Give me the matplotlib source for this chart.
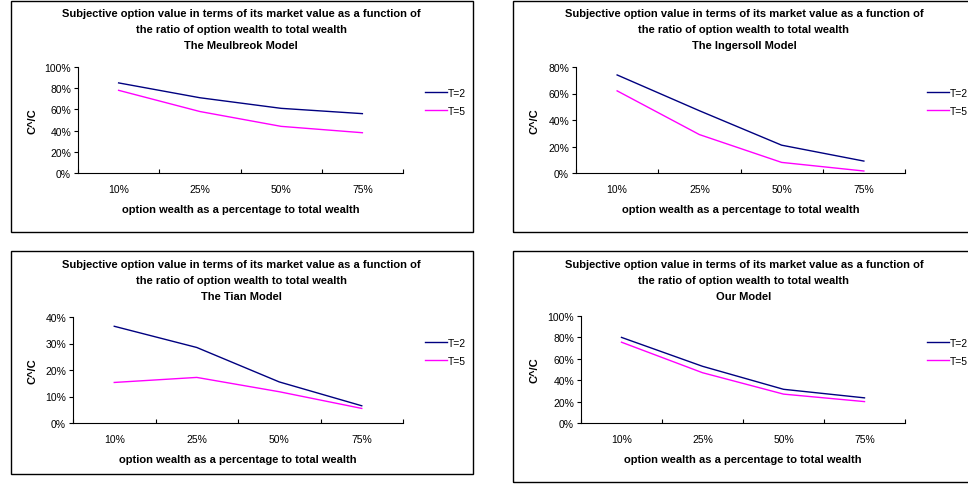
import numpy as np
import matplotlib.pyplot as plt
from matplotlib.patches import Rectangle

plt.rcParams['font.family'] = ['Liberation Sans', 'DejaVu Sans']

categories = ['10%', '25%', '50%', '75%']

meul_t2 = [85, 71, 61, 56]
meul_t5 = [78, 58, 44, 38]
inger_t2 = [74, 47, 21, 9]
inger_t5 = [62, 29, 8, 1.5]
tian_t2 = [36.5, 28.5, 15.5, 6.5]
tian_t5 = [15.3, 17.2, 11.8, 5.5]
our_t2 = [80, 53, 31.5, 23.5]
our_t5 = [75.5, 47, 27, 20]

title_base = 'Subjective option value in terms of its market value as a function of\nthe ratio of option wealth to total wealth\n'

W, H = 968, 485
fig = plt.figure(figsize=(W / 100, H / 100), dpi=100)


def fx(px):
    return px / W


def fy(py):
    return 1 - py / H


# box, axes rect, title center, ylabel x, legend x, y-limit, step
panels = [
    dict(box=(11, 2, 473, 233), ax=(78, 68, 403, 174), tx=241, ty=16, ylx=32,
         lx=424, ly=103, ymax=100, step=20, name='The Meulbreok Model', t2=meul_t2, t5=meul_t5),
    dict(box=(513, 2, 990, 233), ax=(576, 68, 905, 174), tx=744, ty=16, ylx=534,
         lx=926, ly=103, ymax=80, step=20, name='The Ingersoll Model', t2=inger_t2, t5=inger_t5),
    dict(box=(11, 252, 473, 475), ax=(73, 318, 403, 424), tx=241, ty=267, ylx=32,
         lx=424, ly=353, ymax=40, step=10, name='The Tian Model', t2=tian_t2, t5=tian_t5),
    dict(box=(513, 252, 990, 483), ax=(581, 317, 905, 424), tx=744, ty=267, ylx=534,
         lx=926, ly=353, ymax=100, step=20, name='Our Model', t2=our_t2, t5=our_t5),
]

x = np.arange(len(categories))

for p in panels:
    bx0, by0, bx1, by1 = p['box']
    fig.add_artist(Rectangle((fx(bx0), fy(by1)), fx(bx1 - bx0), (by1 - by0) / H,
                             transform=fig.transFigure, fill=False, edgecolor='black', lw=1.0))
    ax0, ay0, ax1, ay1 = p['ax']
    ax = fig.add_axes([fx(ax0), fy(ay1), fx(ax1 - ax0), (ay1 - ay0) / H])
    l1, = ax.plot(x, p['t2'], color='#000080', lw=1.0, label='T=2')
    l2, = ax.plot(x, p['t5'], color='#FF00FF', lw=1.0, label='T=5')
    ax.set_xlim(-0.5, len(categories) - 0.5)
    ax.set_ylim(0, p['ymax'])
    yt = np.arange(0, p['ymax'] + 1, p['step'])
    ax.set_yticks(yt)
    ax.set_yticklabels([f'{int(v)}%' for v in yt])
    ax.set_xticks(np.arange(-0.5, len(categories), 1.0))
    ax.set_xticklabels([])
    ax.set_xticks(x, minor=True)
    ax.set_xticklabels(categories, minor=True)
    ax.tick_params(axis='x', which='minor', length=0, pad=8, labelsize=7.5)
    ax.tick_params(axis='x', which='major', direction='in', length=3, width=0.8)
    ax.tick_params(axis='y', direction='out', length=3, width=0.8, labelsize=7.5, pad=2)
    ax.spines['top'].set_visible(False)
    ax.spines['right'].set_visible(False)
    ax.spines['left'].set_linewidth(0.8)
    ax.spines['bottom'].set_linewidth(0.8)
    ax.patch.set_alpha(0)

    fig.text(fx(p['tx']), fy(p['ty'] - 7), title_base + p['name'], ha='center', va='top',
             fontsize=8, fontweight='bold', linespacing=1.75)
    fig.text(fx((ax0 + ax1) / 2), fy(ay1 + 36), 'option wealth as a percentage to total wealth',
             ha='center', va='center', fontsize=8, fontweight='bold')
    fig.text(fx(p['ylx']), fy((ay0 + ay1) / 2), 'C^/C', rotation=90, ha='center', va='center',
             fontsize=8, fontweight='bold')
    fig.legend(handles=[l1, l2], loc='center left', bbox_to_anchor=(fx(p['lx'] - 6), fy(p['ly'])),
               frameon=False, fontsize=7.5, handlelength=2.1,
               handletextpad=0.1, labelspacing=0.75, borderpad=0.2)

fig.savefig('out.png', dpi=100)
